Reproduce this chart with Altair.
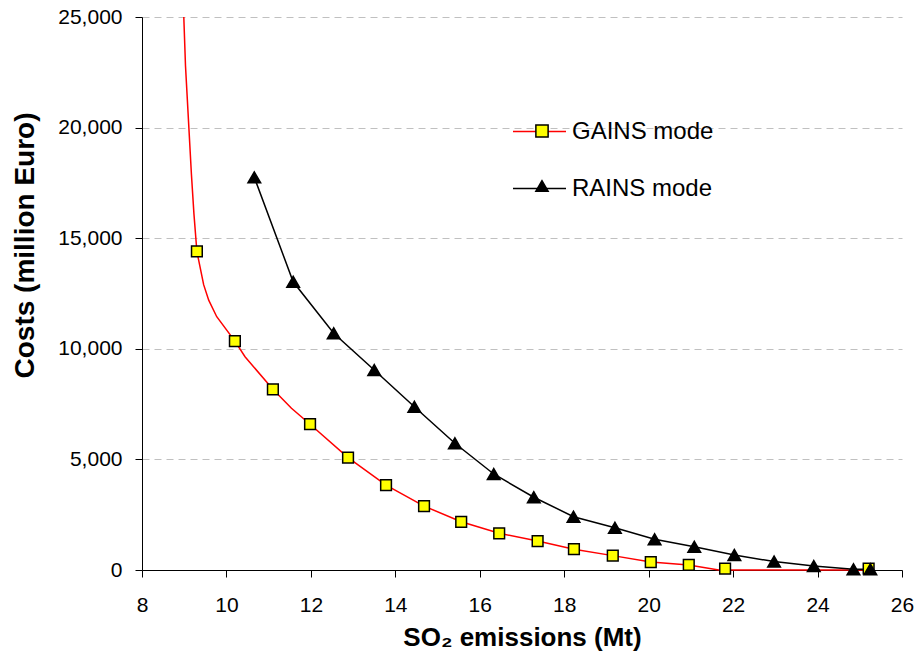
import altair as alt
import pandas as pd

# ---- data ----
series_names = ["GAINS mode", "RAINS mode"]

# GAINS mode: cost curve (line vertices) and its markers
gains_line_x = [8.99, 9.03, 9.11, 9.17, 9.23, 9.30, 9.46, 9.58, 9.77, 10.20, 10.44, 11.10,
                11.54, 11.98, 12.88, 13.78, 14.68, 15.56, 16.46, 17.37, 18.23, 19.15, 20.05,
                20.95, 21.66, 21.81, 25.21]
gains_line_y = [25000, 22800, 20000, 17900, 16100, 14400, 12900, 12200, 11450, 10350, 9640, 8170,
                7310, 6590, 5080, 3840, 2890, 2180, 1660, 1310, 940, 650, 360,
                230, 0, 0, 0]
gains_mark_x = [9.30, 10.20, 11.10, 11.98, 12.88, 13.78, 14.68, 15.56, 16.46, 17.37, 18.23,
                19.15, 20.05, 20.95, 21.81, 25.21]
gains_mark_y = [14400, 10350, 8170, 6590, 5080, 3840, 2890, 2180, 1660, 1310, 940,
                650, 360, 230, 60, 60]

# RAINS mode
rains_x = [10.66, 11.58, 12.54, 13.50, 14.45, 15.41, 16.33, 17.28, 18.22, 19.20, 20.14,
           21.08, 22.03, 22.97, 23.91, 24.85, 25.25]
rains_y = [17750, 13030, 10700, 9040, 7380, 5730, 4340, 3290, 2410, 1910, 1390,
           1050, 680, 380, 180, 30, 30]

x_ticks = [8, 10, 12, 14, 16, 18, 20, 22, 24, 26]
y_ticks = [0, 5000, 10000, 15000, 20000, 25000]

# ---- styles ----
line_colors = ["#ff0000", "#000000"]
marker_fills = ["#ffff00", "#000000"]
marker_strokes = ["#000000", "#000000"]
marker_shapes = ["square", "triangle-up"]
marker_sizes = [115, 160]
FONT = "Liberation Sans"

lines_df = pd.DataFrame({
    "x": gains_line_x + rains_x,
    "y": gains_line_y + rains_y,
    "series": [series_names[0]] * len(gains_line_x) + [series_names[1]] * len(rains_x),
    "order": list(range(len(gains_line_x))) + list(range(len(rains_x))),
})
points_df = pd.DataFrame({
    "x": gains_mark_x + rains_x,
    "y": gains_mark_y + rains_y,
    "Series": [series_names[0]] * len(gains_mark_x) + [series_names[1]] * len(rains_x),
})

x_enc = alt.X("x:Q",
              scale=alt.Scale(domain=[8, 26], nice=False, zero=False),
              axis=alt.Axis(values=x_ticks, title="SO₂ emissions (Mt)", grid=False,
                            labelFlush=False, tickSize=7, labelPadding=17,
                            labelFontSize=21, labelFont=FONT, labelColor="#000000",
                            titleFont=FONT, titleFontSize=26, titleFontWeight="bold",
                            titleColor="#000000", titleBaseline="alphabetic", titleY=75,
                            domainColor="#000000", tickColor="#000000"))
y_enc = alt.Y("y:Q",
              scale=alt.Scale(domain=[0, 25000], nice=False),
              axis=alt.Axis(values=y_ticks, format=",d", title="Costs (million Euro)",
                            grid=True, gridDash=[7, 5], gridColor="#c0c0c0", gridWidth=1,
                            tickSize=7, labelPadding=13, labelFontSize=21, labelFont=FONT,
                            labelColor="#000000",
                            titleFont=FONT, titleFontSize=28, titleFontWeight="bold",
                            titleColor="#000000", titleX=-117, titleY=228,
                            titleAlign="center", titleBaseline="middle",
                            domainColor="#000000", tickColor="#000000"))

legend_a = alt.Legend(title=None, orient="none", legendX=370, legendY=87,
                      symbolType="stroke", symbolSize=2809, symbolStrokeWidth=1.5,
                      labelFont=FONT, labelFontSize=24, labelColor="#000000",
                      labelOffset=5, rowPadding=17, padding=0, zindex=1)
legend_b = alt.Legend(title=None, orient="none", legendX=388, legendY=102,
                      symbolSize=150, symbolStrokeWidth=1.5,
                      labelFont=FONT, labelFontSize=24, labelOpacity=0, labelExpr="''",
                      rowPadding=31, padding=0, zindex=2)

lines = alt.Chart(lines_df).mark_line(strokeWidth=1.5).encode(
    x=x_enc, y=y_enc,
    color=alt.Color("series:N", scale=alt.Scale(range=line_colors), legend=legend_a),
    order="order:Q",
)
points = alt.Chart(points_df).mark_point(filled=True, opacity=1, strokeWidth=1.5).encode(
    x=x_enc, y=y_enc,
    fill=alt.Fill("Series:N", scale=alt.Scale(domain=series_names, range=marker_fills),
                  legend=legend_b),
    stroke=alt.Stroke("Series:N", scale=alt.Scale(domain=series_names, range=marker_strokes),
                      legend=legend_b),
    shape=alt.Shape("Series:N", scale=alt.Scale(domain=series_names, range=marker_shapes),
                    legend=legend_b),
    size=alt.Size("Series:N", scale=alt.Scale(range=marker_sizes), legend=None),
)

chart = alt.layer(lines, points).properties(
    width=760, height=553,
    autosize=alt.AutoSizeParams(type="none"),
    padding={"left": 134, "top": 9, "right": 12, "bottom": 82},
    background="#ffffff",
).configure_view(stroke=None)

chart.save("out.html", embed_options={"renderer": "svg", "actions": False})
